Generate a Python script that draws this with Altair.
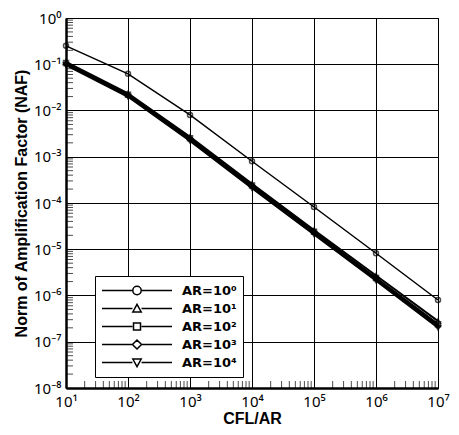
import altair as alt
import pandas as pd

# ---- data ----
cfl_ar = [1e1, 1e2, 1e3, 1e4, 1e5, 1e6, 1e7]
labels = ["AR=10⁰", "AR=10¹", "AR=10²", "AR=10³", "AR=10⁴"]
naf_ar0 = [0.25, 0.062, 0.0080, 8.0e-4, 8.2e-5, 8.2e-6, 8.0e-7]
naf_ar1 = [0.112, 0.0235, 0.0027, 2.6e-4, 2.6e-5, 2.7e-6, 2.8e-7]
naf_ar2 = [0.106, 0.022, 0.0025, 2.4e-4, 2.4e-5, 2.4e-6, 2.4e-7]
naf_ar3 = [0.10, 0.021, 0.0024, 2.3e-4, 2.3e-5, 2.3e-6, 2.2e-7]
naf_ar4 = [0.096, 0.0198, 0.0022, 2.1e-4, 2.1e-5, 2.1e-6, 2.0e-7]
series_values = [naf_ar0, naf_ar1, naf_ar2, naf_ar3, naf_ar4]

x_ticks = [1e1, 1e2, 1e3, 1e4, 1e5, 1e6, 1e7]
y_ticks = [1e-8, 1e-7, 1e-6, 1e-5, 1e-4, 1e-3, 1e-2, 1e-1, 1e0]
y_minor = [k * d for d in [1e-8, 1e-7, 1e-6, 1e-5, 1e-4, 1e-3, 1e-2, 1e-1] for k in range(2, 10)]
x_minor = [k * d for d in [1e1, 1e2, 1e3, 1e4, 1e5, 1e6] for k in range(2, 10)]

rows = []
for lab, vals in zip(labels, series_values):
    for xv, yv in zip(cfl_ar, vals):
        rows.append({"x": xv, "y": yv, "series": lab})
df = pd.DataFrame(rows)
df_top = df[df["series"] == labels[0]]
df_low = df[df["series"] != labels[0]]

W, H = 372, 370
FONT = "Noto Sans"
sup_expr = "['⁰','¹','²','³','⁴','⁵','⁶','⁷','⁸','⁹'][abs(round(log(datum.value)/LN10))]"
lab_expr = "'10' + (datum.value < 1 ? '⁻' : '') + " + sup_expr

xscale = alt.Scale(type="log", domain=[1e1, 1e7], nice=False)
yscale = alt.Scale(type="log", domain=[1e-8, 1], nice=False)

xaxis = alt.Axis(values=x_ticks, labelExpr=lab_expr, title="CFL/AR", grid=True,
                 gridColor="black", gridOpacity=1, gridWidth=1, ticks=False,
                 domainColor="black", domainWidth=2.5, labelFont=FONT,
                 labelFontSize=15, labelColor="black", labelPadding=6,
                 titleFont="Liberation Sans", titleFontSize=16, titleFontWeight="bold",
                 titleColor="black", titlePadding=1, labelFlush=False)
yaxis = alt.Axis(values=y_ticks, labelExpr=lab_expr,
                 title="Norm of Amplification Factor (NAF)", grid=True,
                 gridColor="black", gridOpacity=1, gridWidth=1, ticks=False,
                 domainColor="black", domainWidth=2.5, labelFont=FONT,
                 labelFontSize=15, labelColor="black", labelPadding=5,
                 titleFont="Liberation Sans", titleFontSize=16, titleFontWeight="bold",
                 titleColor="black", titlePadding=4, labelFlush=False)

line_top = alt.Chart(df_top).mark_line(color="black", strokeWidth=1.5).encode(
    x=alt.X("x:Q", scale=xscale, axis=xaxis),
    y=alt.Y("y:Q", scale=yscale, axis=yaxis),
)
line_low = alt.Chart(df_low).mark_line(color="black", strokeWidth=2).encode(
    x=alt.X("x:Q", scale=xscale),
    y=alt.Y("y:Q", scale=yscale),
    detail="series:N",
)
pts = alt.Chart(df).mark_point(color="black", filled=False, size=25, strokeWidth=1.5).encode(
    x=alt.X("x:Q", scale=xscale),
    y=alt.Y("y:Q", scale=yscale),
    shape=alt.Shape("series:N", scale=alt.Scale(
        domain=labels,
        range=["circle", "triangle-up", "square", "diamond", "triangle-down"]),
        legend=None),
)

seg = "M-1,0L-0.13,0M0.13,0L1,0"
legend_paths = [
    seg + "M-0.12,0A0.12,0.12 0 1,1 0.12,0A0.12,0.12 0 1,1 -0.12,0",
    seg + "M-0.12,0.1L0,-0.12L0.12,0.1Z",
    seg + "M-0.1,-0.1L0.1,-0.1L0.1,0.1L-0.1,0.1Z",
    seg + "M0,-0.13L0.13,0L0,0.13L-0.13,0Z",
    seg + "M-0.12,-0.1L0,0.12L0.12,-0.1Z",
]
leg = alt.Chart(df).mark_point(color="black", filled=False, opacity=0).encode(
    x=alt.X("x:Q", scale=xscale),
    y=alt.Y("y:Q", scale=yscale),
    shape=alt.Shape("series:N", scale=alt.Scale(domain=labels, range=legend_paths),
                    legend=alt.Legend(title=None, orient="none", legendX=29, legendY=258,
                                      strokeColor="black", fillColor="white", padding=6,
                                      symbolSize=4900, clipHeight=17,
                                      symbolStrokeColor="black", symbolStrokeWidth=1.5,
                                      symbolOpacity=1, labelFont="DejaVu Sans",
                                      labelFontSize=13, labelFontWeight="bold",
                                      labelColor="black", labelOffset=9, rowPadding=1)),
)

ytick = alt.Chart(pd.DataFrame({"v": y_minor})).mark_tick(
    color="black", size=7, thickness=1, orient="horizontal").encode(
    y=alt.Y("v:Q", scale=yscale), x=alt.value(3.5))
xtick = alt.Chart(pd.DataFrame({"v": x_minor})).mark_tick(
    color="black", size=7, thickness=1, orient="vertical").encode(
    x=alt.X("v:Q", scale=xscale), y=alt.value(H - 3.5))

chart = alt.layer(line_top, line_low, ytick, xtick, pts, leg).resolve_scale(
    shape="independent").properties(
    width=W, height=H,
    autosize=alt.AutoSizeParams(type="none"),
    padding={"left": 58, "top": 10, "right": 13, "bottom": 39},
).configure_view(stroke="black", strokeWidth=1)

chart.save("out.html", embed_options={"renderer": "svg", "actions": False})
